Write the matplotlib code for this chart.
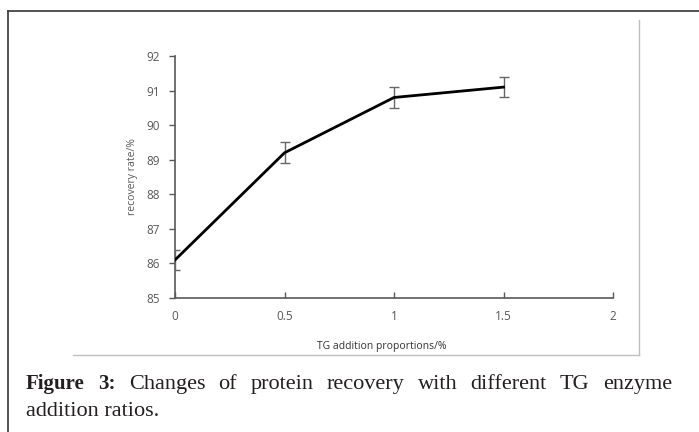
import matplotlib
matplotlib.use("Agg")
import matplotlib.pyplot as plt
from matplotlib.lines import Line2D

x_vals = [0, 0.5, 1, 1.5]
recovery = [86.1, 89.2, 90.8, 91.1]
errors = [0.3, 0.3, 0.3, 0.3]
x_ticks = [0, 0.5, 1, 1.5, 2]
x_tick_labels = ["0", "0.5", "1", "1.5", "2"]
y_ticks = [85, 86, 87, 88, 89, 90, 91, 92]
x_label = "TG addition proportions/%"
y_label = "recovery rate/%"
caption_bold = "Figure 3:"
caption_line1 = "Changes of protein recovery with different TG enzyme"
caption_line2 = "addition ratios."

W, H = 699, 432
fig = plt.figure(figsize=(W / 100, H / 100), dpi=100)
fig.patch.set_facecolor("white")

def fx(px):
    return px / W

def fy(py):
    return 1 - py / H

# outer border
fig.add_artist(Line2D([fx(8), fx(8)], [fy(11), fy(432)], color="#444444", lw=1.3))
fig.add_artist(Line2D([fx(8), fx(699)], [fy(11), fy(11)], color="#444444", lw=1.3))
# inner chart box
fig.add_artist(Line2D([fx(73), fx(639)], [fy(355), fy(355)], color="#bfbfbf", lw=1.0))
fig.add_artist(Line2D([fx(639), fx(639)], [fy(20), fy(355)], color="#bfbfbf", lw=1.0))

ax = fig.add_axes([fx(175), fy(298), fx(613) - fx(175), fy(56) - fy(298)])
ax.set_facecolor("none")
ax.errorbar(x_vals, recovery, yerr=errors, color="black", lw=2.0,
            ecolor="#666666", elinewidth=1.0, capsize=3.5, capthick=1.0, zorder=3)
ax.set_xlim(0, 2)
ax.set_ylim(85, 92)
ax.set_xticks(x_ticks)
ax.set_xticklabels(x_tick_labels)
ax.set_yticks(y_ticks)
for s in ["top", "right"]:
    ax.spines[s].set_visible(False)
for s in ["left", "bottom"]:
    ax.spines[s].set_color("#595959")
    ax.spines[s].set_linewidth(1.2)
ax.tick_params(axis="y", direction="out", length=4, width=1.0, color="#595959",
               labelcolor="#595959", labelsize=8.5, pad=7)
ax.tick_params(axis="x", direction="in", length=4, width=1.0, color="#595959",
               labelcolor="#595959", labelsize=8.5, pad=9)
for lab in ax.get_xticklabels() + ax.get_yticklabels():
    lab.set_family("Open Sans")

fig.text(fx(132), fy(177), y_label, rotation=90, ha="center", va="center",
         fontsize=7.5, color="#595959", family="Open Sans")
fig.text(fx(382), fy(346), x_label, ha="center", va="center",
         fontsize=7.5, color="#333333", family="Open Sans")

# caption, justified first line
fig.canvas.draw()
renderer = fig.canvas.get_renderer()
left_px, right_px = 26, 672
y1 = fy(389)
words = [(w, "bold", 15) for w in caption_bold.split()] + \
        [(w, "normal", 16) for w in caption_line1.split()]
texts = []
for w, wt, fs in words:
    t = fig.text(0, y1, w, fontsize=fs, family="Liberation Serif", weight=wt,
                 color="#231f20", ha="left", va="baseline")
    texts.append(t)
widths = [t.get_window_extent(renderer).width for t in texts]
gap = (right_px - left_px - sum(widths)) / (len(texts) - 1)
xpos = left_px
for t, wd in zip(texts, widths):
    t.set_x(fx(xpos))
    xpos += wd + gap
fig.text(fx(left_px), fy(416), caption_line2, fontsize=16, family="Liberation Serif",
         color="#231f20", ha="left", va="baseline")

fig.savefig("out.png", dpi=100)
